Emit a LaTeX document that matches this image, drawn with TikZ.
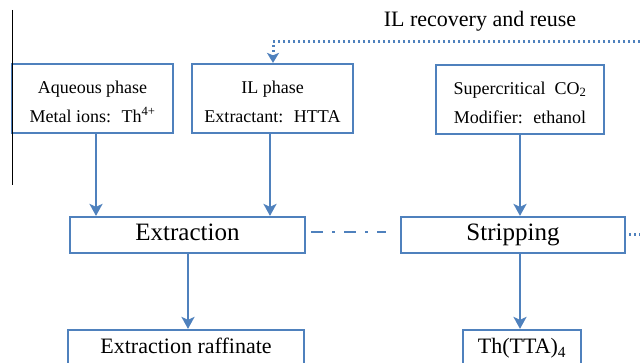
\documentclass[tikz,border=0pt]{standalone}
\usepackage{fontspec}
\setmainfont{Liberation Serif}
\usetikzlibrary{arrows.meta}
\definecolor{ob}{RGB}{79,129,189}
\begin{document}
\begin{tikzpicture}[x=1pt,y=-1pt,
  box/.style={draw=ob, line width=2.2pt, inner sep=0pt},
  txt/.style={inner sep=0pt, align=center, text=black},
  smallfont/.style={font=\fontsize{18}{29}\selectfont},
  bigfont/.style={font=\fontsize{25}{28}\selectfont, text height=17pt, text depth=5pt},
  midfont/.style={font=\fontsize{22}{26}\selectfont, text height=15pt, text depth=5pt},
  flow/.style={draw=ob, line width=2.6pt, -{Stealth[length=12pt,width=13pt,inset=3pt]}},
  dotline/.style={draw=ob, line width=3pt, dash pattern=on 2pt off 3pt},
  dashdotline/.style={draw=ob, line width=2.8pt, dash pattern=on 12pt off 9pt on 3pt off 9pt}]
\useasboundingbox (0,0) rectangle (640,363);
\clip (0,0) rectangle (640,363);
\fill[white] (0,0) rectangle (640,363);

\node[box, minimum width=161pt, minimum height=69pt] (aq) at (92.5,98.5) {};
\node[txt, smallfont] (aqt) at ([yshift=-3pt]aq.center) {Aqueous phase\\Metal ions:~ Th\textsuperscript{4+}};
\node[box, minimum width=161pt, minimum height=69pt] (il) at (272.5,98.5) {};
\node[txt, smallfont] (ilt) at ([yshift=-3pt]il.center) {IL phase\\Extractant:~ HTTA};
\node[box, minimum width=168pt, minimum height=69pt] (sc) at (520,99.5) {};
\node[txt, smallfont] (sct) at ([yshift=-3pt]sc.center) {Supercritical~ CO\textsubscript{2}\\Modifier:~ ethanol};

\node[box, txt, bigfont, minimum width=235pt, minimum height=36pt] (ext) at (187.5,235) {Extraction};
\node[box, txt, bigfont, minimum width=224pt, minimum height=36pt] (strip) at (513,235) {Stripping};
\node[box, txt, midfont, minimum width=236pt, minimum height=38pt] (raff) at (186,349) {Extraction raffinate};
\node[box, txt, midfont, minimum width=118pt, minimum height=38pt] (th) at (522,349) {Th(TTA)\textsubscript{4}};
\node[font=\fontsize{22}{24}\selectfont] (lbl) at (480,21) {IL recovery and reuse};

\draw[flow] ([xshift=3.5pt]aq.south) -- ([xshift=3.5pt]aq.south |- ext.north);
\draw[flow] ([xshift=-2.5pt]il.south) -- ([xshift=-2.5pt]il.south |- ext.north);
\draw[flow] (sc.south) -- (sc.south |- strip.north);
\draw[flow] ([xshift=0.5pt]ext.south) -- ([xshift=0.5pt]ext.south |- raff.north);
\draw[flow] (strip.south -| sc.south) -- (sc.south |- th.north);

\coordinate (r1) at (640,42);
\coordinate (c1) at (273,42);
\draw[dotline, -{Stealth[length=10pt,width=12pt,inset=2.5pt]}] (r1) -- (c1) -- (c1 |- il.north);

\draw[dashdotline] ([xshift=5pt,yshift=3pt]ext.east) -- ([xshift=-14pt,yshift=3pt]strip.west);
\coordinate (r2) at (640,235);
\draw[dotline] ([xshift=3pt]strip.east) -- (r2);

\coordinate (b1) at (12,10);
\coordinate (b2) at (12,185);
\draw[black, line width=1pt] (b1) -- (b2);
\end{tikzpicture}
\end{document}
